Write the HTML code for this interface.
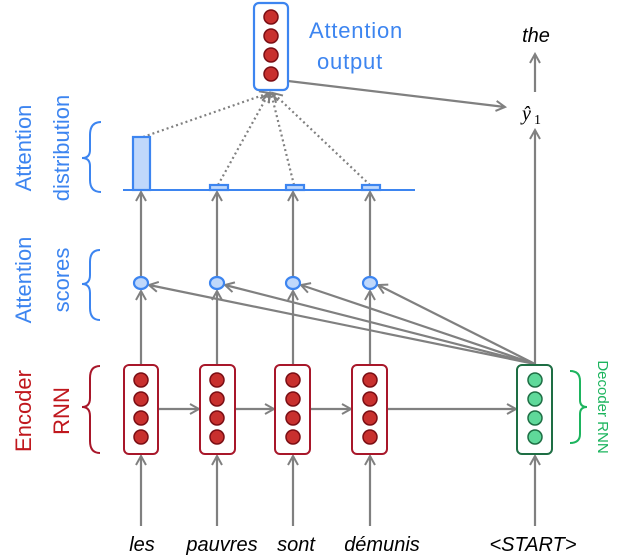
<!DOCTYPE html>
<html><head><style>body{margin:0;background:#fff}svg{display:block}</style></head><body>
<svg width="627" height="560" viewBox="0 0 627 560" xmlns="http://www.w3.org/2000/svg" font-family="'Liberation Sans', sans-serif">
<defs>
<marker id="a" markerWidth="12" markerHeight="12" refX="10" refY="6" orient="auto" markerUnits="userSpaceOnUse">
<path d="M1,1 L10,6 L1,11" fill="none" stroke="#808080" stroke-width="2"/></marker>
</defs>
<g stroke="#808080" stroke-width="2.2" fill="none" marker-end="url(#a)">
<line x1="141" y1="526" x2="141" y2="456"/>
<line x1="217" y1="526" x2="217" y2="456"/>
<line x1="293" y1="526" x2="293" y2="456"/>
<line x1="370" y1="526" x2="370" y2="456"/>
<line x1="535" y1="526" x2="535" y2="456"/>
<line x1="158" y1="409" x2="199" y2="409"/>
<line x1="235" y1="409" x2="274" y2="409"/>
<line x1="310" y1="409" x2="351" y2="409"/>
<line x1="387" y1="409" x2="516" y2="409"/>
<line x1="141" y1="365" x2="141" y2="291"/>
<line x1="217" y1="365" x2="217" y2="291"/>
<line x1="293" y1="365" x2="293" y2="291"/>
<line x1="370" y1="365" x2="370" y2="291"/>
<line x1="141" y1="276" x2="141" y2="192"/>
<line x1="217" y1="276" x2="217" y2="192"/>
<line x1="293" y1="276" x2="293" y2="192"/>
<line x1="370" y1="276" x2="370" y2="192"/>
<line x1="535" y1="364" x2="149" y2="285"/>
<line x1="535" y1="364" x2="225" y2="285"/>
<line x1="535" y1="364" x2="301" y2="285"/>
<line x1="535" y1="364" x2="378" y2="285"/>
<line x1="535" y1="364" x2="535" y2="130"/>
<line x1="535" y1="92" x2="535" y2="54"/>
<line x1="288" y1="81" x2="505" y2="107"/>
</g>
<g stroke="#808080" stroke-width="2.2" stroke-dasharray="2,3" fill="none" marker-end="url(#a)">
<line x1="143" y1="137" x2="269" y2="93"/>
<line x1="218" y1="185" x2="269" y2="93"/>
<line x1="294" y1="185" x2="271" y2="93"/>
<line x1="370" y1="185" x2="273" y2="93"/>
</g>
<line x1="123" y1="190" x2="415" y2="190" stroke="#3d85f0" stroke-width="2"/>
<g fill="#c0d8fb" stroke="#3d85f0" stroke-width="2.2">
<rect x="133" y="137" width="17" height="53"/>
<rect x="210" y="185" width="18" height="5"/>
<rect x="286" y="185" width="18" height="5"/>
<rect x="362" y="185" width="18" height="5"/>
<ellipse cx="141" cy="283" rx="7" ry="6"/>
<ellipse cx="217" cy="283" rx="7" ry="6"/>
<ellipse cx="293" cy="283" rx="7" ry="6"/>
<ellipse cx="370" cy="283" rx="7" ry="6"/>
</g>
<rect x="254" y="3" width="34" height="87" rx="5" fill="#fff" stroke="#3d85f0" stroke-width="2.2"/>
<g fill="#c8302e" stroke="#7a0e14" stroke-width="1.5">
<circle cx="271" cy="17" r="7"/><circle cx="271" cy="36" r="7"/><circle cx="271" cy="55" r="7"/><circle cx="271" cy="74" r="7"/>
</g>
<g fill="#fff" stroke="#a8172a" stroke-width="2">
<rect x="124" y="365" width="34" height="89" rx="5"/><rect x="200" y="365" width="35" height="89" rx="5"/>
<rect x="275" y="365" width="35" height="89" rx="5"/><rect x="352" y="365" width="35" height="89" rx="5"/>
</g>
<rect x="517" y="365" width="35" height="89" rx="5" fill="#fff" stroke="#1e6e44" stroke-width="2"/>
<g fill="#c8302e" stroke="#7a0e14" stroke-width="1.5">
<circle cx="141" cy="380" r="7"/><circle cx="141" cy="399" r="7"/><circle cx="141" cy="418" r="7"/><circle cx="141" cy="437" r="7"/>
<circle cx="217" cy="380" r="7"/><circle cx="217" cy="399" r="7"/><circle cx="217" cy="418" r="7"/><circle cx="217" cy="437" r="7"/>
<circle cx="293" cy="380" r="7"/><circle cx="293" cy="399" r="7"/><circle cx="293" cy="418" r="7"/><circle cx="293" cy="437" r="7"/>
<circle cx="370" cy="380" r="7"/><circle cx="370" cy="399" r="7"/><circle cx="370" cy="418" r="7"/><circle cx="370" cy="437" r="7"/>
</g>
<g fill="#5fd99a" stroke="#1e6e44" stroke-width="1.5">
<circle cx="535" cy="380" r="7"/><circle cx="535" cy="399" r="7"/><circle cx="535" cy="418" r="7"/><circle cx="535" cy="437" r="7"/>
</g>
<g fill="none" stroke-width="2">
<path d="M101,122 Q90,122 90,135 L90,150 Q90,158 82,158 Q90,158 90,166 L90,180 Q90,192 101,192" stroke="#3d85f0"/>
<path d="M100,250 Q90,250 90,262 L90,275 Q90,284 82,284 Q90,284 90,293 L90,308 Q90,320 100,320" stroke="#3d85f0"/>
<path d="M100,366 Q90,366 90,378 L90,398 Q90,407 82,407 Q90,407 90,416 L90,441 Q90,453 100,453" stroke="#a8172a"/>
<path d="M570,371 Q580,371 580,381 L580,400 Q580,407 587,407 Q580,407 580,414 L580,434 Q580,443 570,443" stroke="#1db45e"/>
</g>
<g font-size="22" fill="#3d85f0" text-anchor="middle">
<text x="356" y="38" letter-spacing="0.8">Attention</text>
<text x="350" y="69" letter-spacing="0.8">output</text>
<text transform="translate(31,148) rotate(-90)">Attention</text>
<text transform="translate(69,148) rotate(-90)">distribution</text>
<text transform="translate(31,280) rotate(-90)">Attention</text>
<text transform="translate(69,280) rotate(-90)">scores</text>
</g>
<g font-size="22" fill="#c0181e" text-anchor="middle">
<text transform="translate(31,411) rotate(-90)">Encoder</text>
<text transform="translate(69,411) rotate(-90)">RNN</text>
</g>
<text transform="translate(598,407) rotate(90)" font-size="15" fill="#1db45e" text-anchor="middle">Decoder RNN</text>
<g font-size="20" font-style="italic" fill="#000" text-anchor="middle">
<text x="536" y="42">the</text>
<text x="142" y="551">les</text>
<text x="222" y="551">pauvres</text>
<text x="296" y="551">sont</text>
<text x="382" y="551">démunis</text>
<text x="533" y="551">&lt;START&gt;</text>
</g>
<text x="522" y="120" font-size="20" font-style="italic" font-family="'Liberation Serif', serif" fill="#000">ŷ</text>
<text x="534" y="124" font-size="14" fill="#000" font-family="'Liberation Serif', serif">1</text>
</svg>
</body></html>
